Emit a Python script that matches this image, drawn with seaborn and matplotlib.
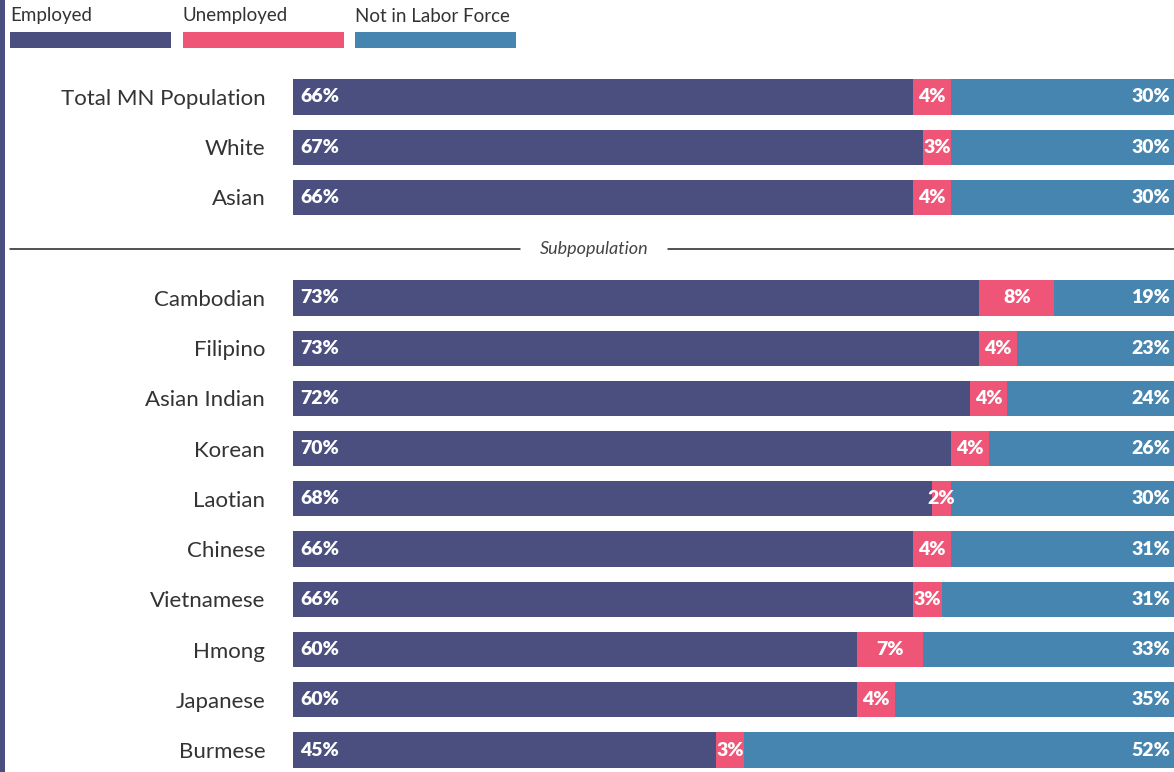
import matplotlib
matplotlib.use("Agg")
import matplotlib.pyplot as plt
import matplotlib.transforms as mtransforms
from matplotlib.patches import Rectangle
from matplotlib.lines import Line2D
import pandas as pd
import seaborn as sns

# Labor force status by population group (percent)
groups = ["Total MN Population", "White", "Asian",
          "Cambodian", "Filipino", "Asian Indian", "Korean", "Laotian",
          "Chinese", "Vietnamese", "Hmong", "Japanese", "Burmese"]
employed = [66, 67, 66, 73, 73, 72, 70, 68, 66, 66, 60, 60, 45]
unemployed = [4, 3, 4, 8, 4, 4, 4, 2, 4, 3, 7, 4, 3]
not_in_lf = [30, 30, 30, 19, 23, 24, 26, 30, 31, 31, 33, 35, 52]
series_names = ["Employed", "Unemployed", "Not in Labor Force"]

C_EMP = "#4b4f80"
C_UNEMP = "#ef5577"
C_NILF = "#4585b0"
TEXT = "#333333"

sns.set_theme(style="white")
plt.rcParams["font.family"] = ["Lato", "DejaVu Sans"]

W, H = 1174, 772
fig = plt.figure(figsize=(W / 100, H / 100), dpi=100)

def px(x, y):
    """Pixel position (from top-left) to figure fraction."""
    return x / W, 1 - y / H

df = pd.DataFrame({"group": groups, "emp": employed,
                   "unemp": unemployed, "nilf": not_in_lf})
df["cum_unemp"] = df["emp"] + df["unemp"]
df["cum_all"] = df["cum_unemp"] + df["nilf"]

gap = " "
order = groups[:3] + [gap] + groups[3:]

# axes: 0% at x=293 px, 9.4 px per percent; rows spaced ~50 px
row = (750 - 97) / 13
ax_left, ax_w = 293, 940
ax_top = 97 - row / 2
ax_bot = 750 + row / 2
ax = fig.add_axes([ax_left / W, 1 - ax_bot / H, ax_w / W, (ax_bot - ax_top) / H])

kw = dict(data=df, y="group", order=order, orient="y", width=0.7,
          ax=ax, saturation=1, linewidth=0)
sns.barplot(x="cum_all", color=C_NILF, **kw)
sns.barplot(x="cum_unemp", color=C_UNEMP, **kw)
sns.barplot(x="emp", color=C_EMP, **kw)

ax.set_xlim(0, 100)
ax.set_ylim(len(order) - 0.5, -0.5)
ax.set_xlabel("")
ax.set_ylabel("")
ax.set_xticks([])
ax.set_yticks(range(len(order)))
ax.set_yticklabels(order, fontsize=16, color=TEXT)
ax.tick_params(axis="y", length=0, pad=20)
for s in ax.spines.values():
    s.set_visible(False)
ax.patch.set_alpha(0)

# value labels
fig_x = mtransforms.blended_transform_factory(fig.transFigure, ax.transData)
lab = dict(color="white", fontsize=14, fontweight="heavy", va="center")
for g, e, u, n in zip(groups, employed, unemployed, not_in_lf):
    yi = order.index(g)
    ax.text(300 / W, yi, f"{e}%", transform=fig_x, ha="left", **lab)
    ax.text(e + u / 2, yi, f"{u}%", ha="center", **lab)
    ax.text(1170 / W, yi, f"{n}%", transform=fig_x, ha="right", **lab)

# section divider
yd = px(0, 249)[1]
fig.add_artist(Line2D([10 / W, 520 / W], [yd, yd], color="#222222", lw=1.1))
fig.add_artist(Line2D([668 / W, 1.0], [yd, yd], color="#222222", lw=1.1))
fig.text(594 / W, yd, "Subpopulation", ha="center", va="center",
         fontsize=13, style="italic", color="#444444")

# legend
for name, col, x0 in zip(series_names, [C_EMP, C_UNEMP, C_NILF], [10, 183, 355]):
    fig.text(x0 / W, px(0, 16)[1], name, ha="left", va="center",
             fontsize=13.5, color=TEXT)
    fig.add_artist(Rectangle(px(x0, 48), 161 / W, 16 / H,
                             transform=fig.transFigure, color=col, lw=0))

# left accent strip
fig.add_artist(Rectangle((0, 0), 5 / W, 1, transform=fig.transFigure,
                         color=C_EMP, lw=0))

fig.savefig("out.png", dpi=100, facecolor="white")
